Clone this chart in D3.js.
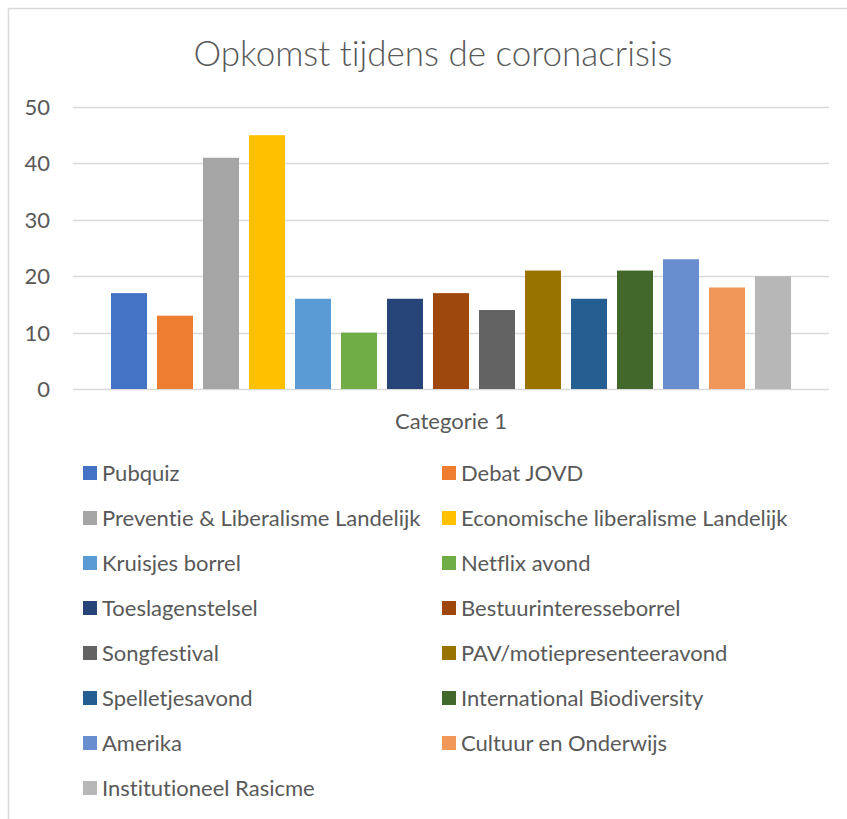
<!DOCTYPE html>
<html>
<head>
<meta charset="utf-8">
<script src="https://cdn.jsdelivr.net/npm/d3@7"></script>
<style>
  body { margin: 0; background: #fff; }
  svg text { font-family: Lato, "Open Sans", sans-serif; fill: #595959; font-variant-ligatures: none; }
</style>
</head>
<body>
<div id="chart"></div>
<script>
// chart data
const series = [
    "Pubquiz", "Debat JOVD", "Preventie & Liberalisme Landelijk",
    "Economische liberalisme Landelijk", "Kruisjes borrel", "Netflix avond",
    "Toeslagenstelsel", "Bestuurinteresseborrel", "Songfestival",
    "PAV/motiepresenteeravond", "Spelletjesavond", "International Biodiversity",
    "Amerika", "Cultuur en Onderwijs", "Institutioneel Rasicme"
];
const values = [17, 13, 41, 45, 16, 10, 16, 17, 14, 21, 16, 21, 23, 18, 20];
const colors = [
    "#4472C4", "#ED7D31", "#A5A5A5", "#FFC000", "#5B9BD5", "#70AD47",
    "#264478", "#9E480E", "#636363", "#997300", "#255E91", "#43682B",
    "#698ED0", "#F1975A", "#B7B7B7"
];
const yTicks = [0, 10, 20, 30, 40, 50];
const category = "Categorie 1";
const title = "Opkomst tijdens de coronacrisis";

const W = 847, H = 819;
const plot = {left: 73, right: 829, top: 107, bottom: 389};
const labelSize = "22px";

const svg = d3.select("#chart").append("svg")
    .attr("width", W)
    .attr("height", H);

// outer chart border (only top + left show in the crop)
svg.append("rect")
    .attr("x", 8.5).attr("y", 8.5)
    .attr("width", W + 20).attr("height", H + 20)
    .attr("fill", "#fff")
    .attr("stroke", "#D9D9D9")
    .attr("stroke-width", 1.5);

// title
svg.append("text")
    .attr("x", 433)
    .attr("y", 66)
    .attr("text-anchor", "middle")
    .style("font-size", "35px")
    .style("font-weight", 300)
    .text(title);

// scales
const y = d3.scaleLinear().domain([0, 50]).range([plot.bottom, plot.top]);
const x = d3.scaleBand()
    .domain(series)
    .range([plot.left, plot.right])
    .paddingInner(10 / 46)
    .paddingOuter(0.826);

// gridlines
svg.append("g")
    .selectAll("line")
    .data(yTicks)
    .enter()
    .append("line")
        .attr("x1", plot.left)
        .attr("x2", plot.right)
        .attr("y1", d => Math.round(y(d)) + 0.5)
        .attr("y2", d => Math.round(y(d)) + 0.5)
        .attr("stroke", "#D9D9D9")
        .attr("stroke-width", 1.5);

// y axis labels
svg.append("g")
    .selectAll("text")
    .data(yTicks)
    .enter()
    .append("text")
        .attr("x", 50)
        .attr("y", d => y(d))
        .attr("dy", "0.36em")
        .attr("text-anchor", "end")
        .style("font-size", labelSize)
        .text(d => d);

// the bars
svg.append("g")
    .selectAll("rect")
    .data(values)
    .enter()
    .append("rect")
        .attr("x", (d, i) => x(series[i]))
        .attr("y", d => y(d))
        .attr("width", x.bandwidth())
        .attr("height", d => y(0) - y(d))
        .attr("fill", (d, i) => colors[i]);

// category label
svg.append("text")
    .attr("x", (plot.left + plot.right) / 2)
    .attr("y", 421)
    .attr("dy", "0.36em")
    .attr("text-anchor", "middle")
    .style("font-size", labelSize)
    .text(category);

// legend, two columns
const colX = [83, 442];
const rowY0 = 473, rowStep = 45;
let legend = svg.append("g")
    .selectAll("g")
    .data(series)
    .enter()
    .append("g")
        .attr("transform", (d, i) =>
            "translate(" + colX[i % 2] + "," + (rowY0 + Math.floor(i / 2) * rowStep) + ")");

legend.append("rect")
    .attr("x", 0)
    .attr("y", -7)
    .attr("width", 14)
    .attr("height", 14)
    .attr("fill", (d, i) => colors[i]);

legend.append("text")
    .attr("x", 19)
    .attr("y", 0)
    .attr("dy", "0.36em")
    .style("font-size", labelSize)
    .text(d => d);
</script>
</body>
</html>
